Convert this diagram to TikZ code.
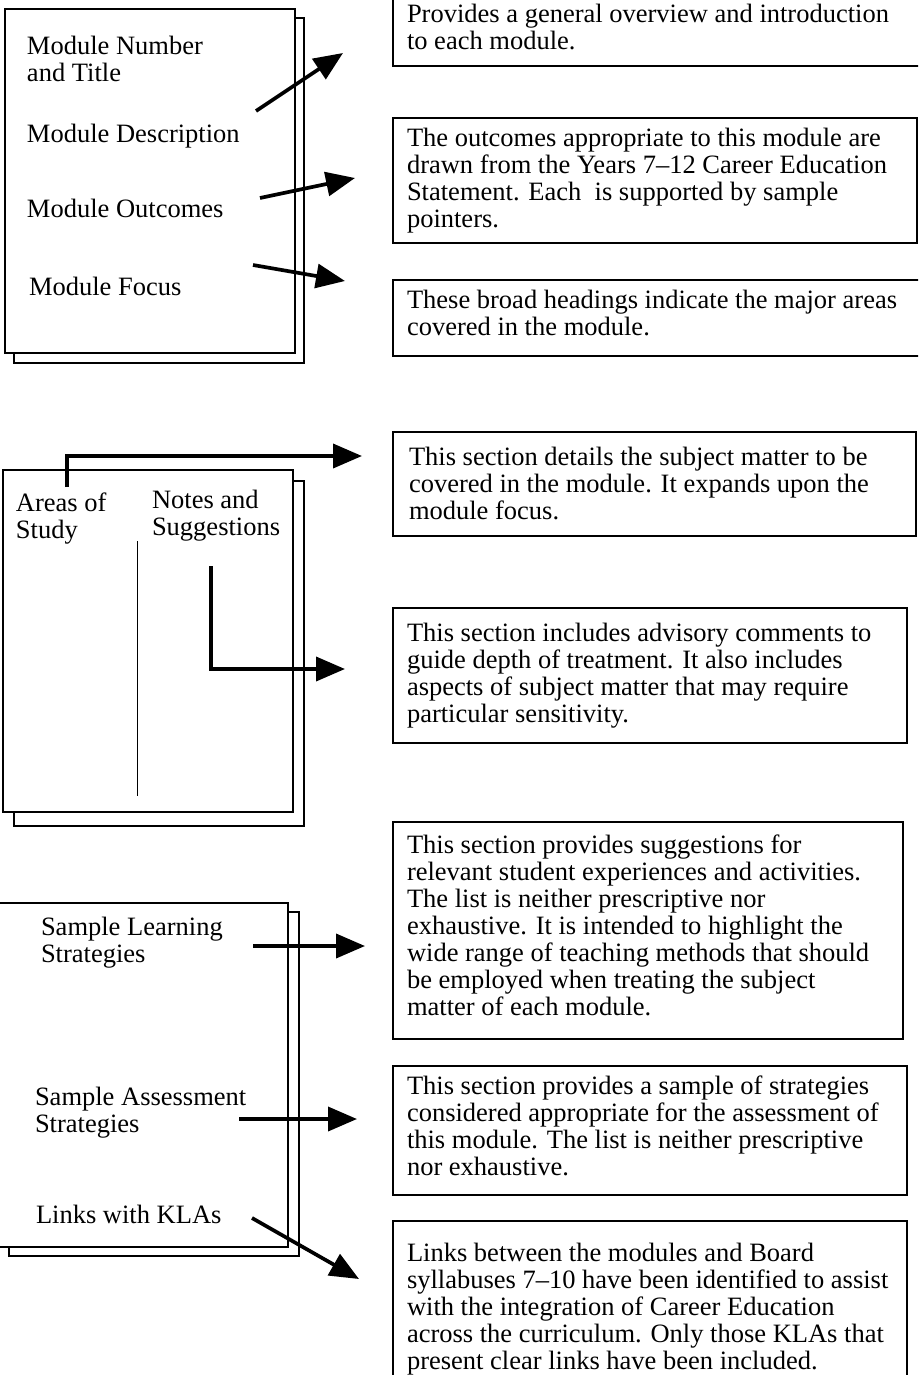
\documentclass[tikz,border=0pt]{standalone}
\usepackage{fontspec}
\setmainfont{Liberation Serif}
\usetikzlibrary{arrows.meta}
\newcommand{\mlines}[1]{\begin{tabular}[t]{@{}l@{}}#1\end{tabular}}
\begin{document}
\begin{tikzpicture}[x=1pt,y=-1pt,
  txt/.style={anchor=base west,inner sep=0pt,outer sep=0pt,font=\fontsize{26.5}{27}\selectfont},
  page/.style={draw=black,line width=1.8pt,fill=white},
  descbox/.style={draw=black,line width=1.8pt},
  divider/.style={draw=black,line width=1pt},
  pointer/.style={draw=black,line width=3.7pt,line join=miter,-{Triangle[length=29pt,width=24pt]}}]
\useasboundingbox (0,0) rectangle (918,1375);
\clip (0,0) rectangle (918,1375);

% ---------- stack 1 ----------
\draw[page] (14,18) rectangle (304,363);
\draw[page] (5,9) rectangle (295,353);
\node[txt] (mnt) at (27,55) {\mlines{Module Number\\and Title}};
\node[txt] (mdesc) at (27,143) {Module Description};
\node[txt] (mout) at (27,217) {Module Outcomes};
\node[txt] (mfoc) at (29,295) {Module Focus};

% ---------- stack 2 ----------
\draw[page] (14,481) rectangle (304,826);
\draw[page] (3,470) rectangle (293,812);
\draw[divider] (137,541) -- (137,796);
\node[txt] (aos) at (16,511) {\mlines{Areas of\\Study}};
\node[txt] (nas) at (152,508) {\mlines{Notes and\\Suggestions}};

% ---------- stack 3 ----------
\draw[page] (9,912) rectangle (299,1256);
\draw[page] (-2,903) rectangle (288,1247);
\node[txt] (sls) at (41,935) {\mlines{Sample Learning\\Strategies}};
\node[txt] (sas) at (35,1105) {\mlines{Sample Assessment\\Strategies}};
\node[txt] (kla) at (36,1223) {Links with KLAs};

% ---------- description boxes ----------
\draw[descbox] (393,-10) rectangle (930,66);
\node[txt] (d1) at (407,23) {\mlines{Provides a general overview and introduction\\to each module.}};

\draw[descbox] (393,118) rectangle (917,243);
\node[txt] (d2) at (407,147) {\mlines{The outcomes appropriate to this module are\\drawn from the Years 7--12 Career Education\\Statement. Each\ \ is supported by sample\\pointers.}};

\draw[descbox] (393,280) rectangle (930,356);
\node[txt] (d3) at (407,308) {\mlines{These broad headings indicate the major areas\\covered in the module.}};

\draw[descbox] (393,432) rectangle (916,536);
\node[txt] (d4) at (409,465) {\mlines{This section details the subject matter to be\\covered in the module. It expands upon the\\module focus.}};

\draw[descbox] (393,608) rectangle (907,743);
\node[txt] (d5) at (407,641) {\mlines{This section includes advisory comments to\\guide depth of treatment. It also includes\\aspects of subject matter that may require\\particular sensitivity.}};

\draw[descbox] (393,822) rectangle (903,1039);
\node[txt] (d6) at (407,853) {\mlines{This section provides suggestions for\\relevant student experiences and activities.\\The list is neither prescriptive nor\\exhaustive. It is intended to highlight the\\wide range of teaching methods that should\\be employed when treating the subject\\matter of each module.}};

\draw[descbox] (393,1066) rectangle (907,1195);
\node[txt] (d7) at (407,1094) {\mlines{This section provides a sample of strategies\\considered appropriate for the assessment of\\this module. The list is neither prescriptive\\nor exhaustive.}};

\draw[descbox] (393,1221) rectangle (907,1390);
\node[txt] (d8) at (407,1261) {\mlines{Links between the modules and Board\\syllabuses 7--10 have been identified to assist\\with the integration of Career Education\\across the curriculum. Only those KLAs that\\present clear links have been included.}};

% ---------- pointer coordinates ----------
\coordinate (a1s) at (256,111); \coordinate (a1e) at (343,53);
\coordinate (a2s) at (260,198); \coordinate (a2e) at (355,178);
\coordinate (a3s) at (253,265); \coordinate (a3e) at (345,281);
\coordinate (b1s) at (67,487);  \coordinate (b1m) at (67,456);  \coordinate (b1e) at (362,456);
\coordinate (b2s) at (211,566); \coordinate (b2m) at (211,669); \coordinate (b2e) at (345,669);
\coordinate (c1s) at (253,946); \coordinate (c1e) at (365,946);
\coordinate (c2s) at (239,1119); \coordinate (c2e) at (357,1119);
\coordinate (c3s) at (252,1218); \coordinate (c3e) at (359,1279);

% ---------- pointers ----------
\draw[pointer] (a1s) -- (a1e);
\draw[pointer] (a2s) -- (a2e);
\draw[pointer] (a3s) -- (a3e);
\draw[pointer] (b1s) -- (b1m) -- (b1e);
\draw[pointer] (b2s) -- (b2m) -- (b2e);
\draw[pointer] (c1s) -- (c1e);
\draw[pointer] (c2s) -- (c2e);
\draw[pointer] (c3s) -- (c3e);
\end{tikzpicture}
\end{document}
